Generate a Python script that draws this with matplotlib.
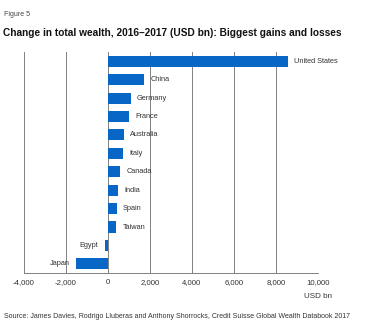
import matplotlib
matplotlib.use("Agg")
import matplotlib.pyplot as plt

plt.rcParams['font.family'] = ['Liberation Sans', 'DejaVu Sans']

countries = ['United States', 'China', 'Germany', 'France', 'Australia', 'Italy',
             'Canada', 'India', 'Spain', 'Taiwan', 'Egypt', 'Japan']
change = [8560, 1740, 1080, 1000, 750, 730, 570, 480, 410, 400, -150, -1530]
xticks = [-4000, -2000, 0, 2000, 4000, 6000, 8000, 10000]

fig = plt.figure(figsize=(3.74, 3.31), dpi=100)
ax = fig.add_axes([0.064, 0.175, 0.786, 0.668])

y = list(range(len(countries)))
ax.barh(y, change, height=0.6, color='#0867c6', zorder=3)

# country names next to the bars
for yi, name, v in zip(y, countries, change):
    if v >= 0:
        ax.text(v + 300, yi, name, va='center', ha='left', fontsize=5.3, color='#333333')
    else:
        ax.text(v - 300, yi, name, va='center', ha='right', fontsize=5.3, color='#333333')

ax.set_ylim(len(countries) - 0.5, -0.5)
ax.set_xlim(-4000, 10000)
ax.set_xticks(xticks)
ax.set_xticklabels([f'{t:,}' for t in xticks], fontsize=5.6, color='#333333')
ax.set_yticks([])
ax.tick_params(axis='x', length=0, pad=4)
ax.grid(axis='x', color='#808080', linewidth=0.7, zorder=0)
for s in ['left', 'right', 'top']:
    ax.spines[s].set_visible(False)
ax.spines['bottom'].set_color('#808080')
ax.spines['bottom'].set_linewidth(0.7)

fig.text(0.888, 1 - 297 / 331, 'USD bn', ha='right', va='center', fontsize=5.8, color='#333333')
fig.text(0.011, 1 - 15 / 331, 'Figure 5', ha='left', va='center', fontsize=5, color='#444444')
fig.text(0.008, 1 - 33 / 331, 'Change in total wealth, 2016\u20132017 (USD bn): Biggest gains and losses',
         ha='left', va='center', fontsize=7.3, fontweight='bold', color='#111111')
fig.text(0.011, 1 - 316 / 331,
         'Source: James Davies, Rodrigo Lluberas and Anthony Shorrocks, Credit Suisse Global Wealth Databook 2017',
         ha='left', va='center', fontsize=5.0, color='#333333')

fig.savefig('out.png', dpi=100)
